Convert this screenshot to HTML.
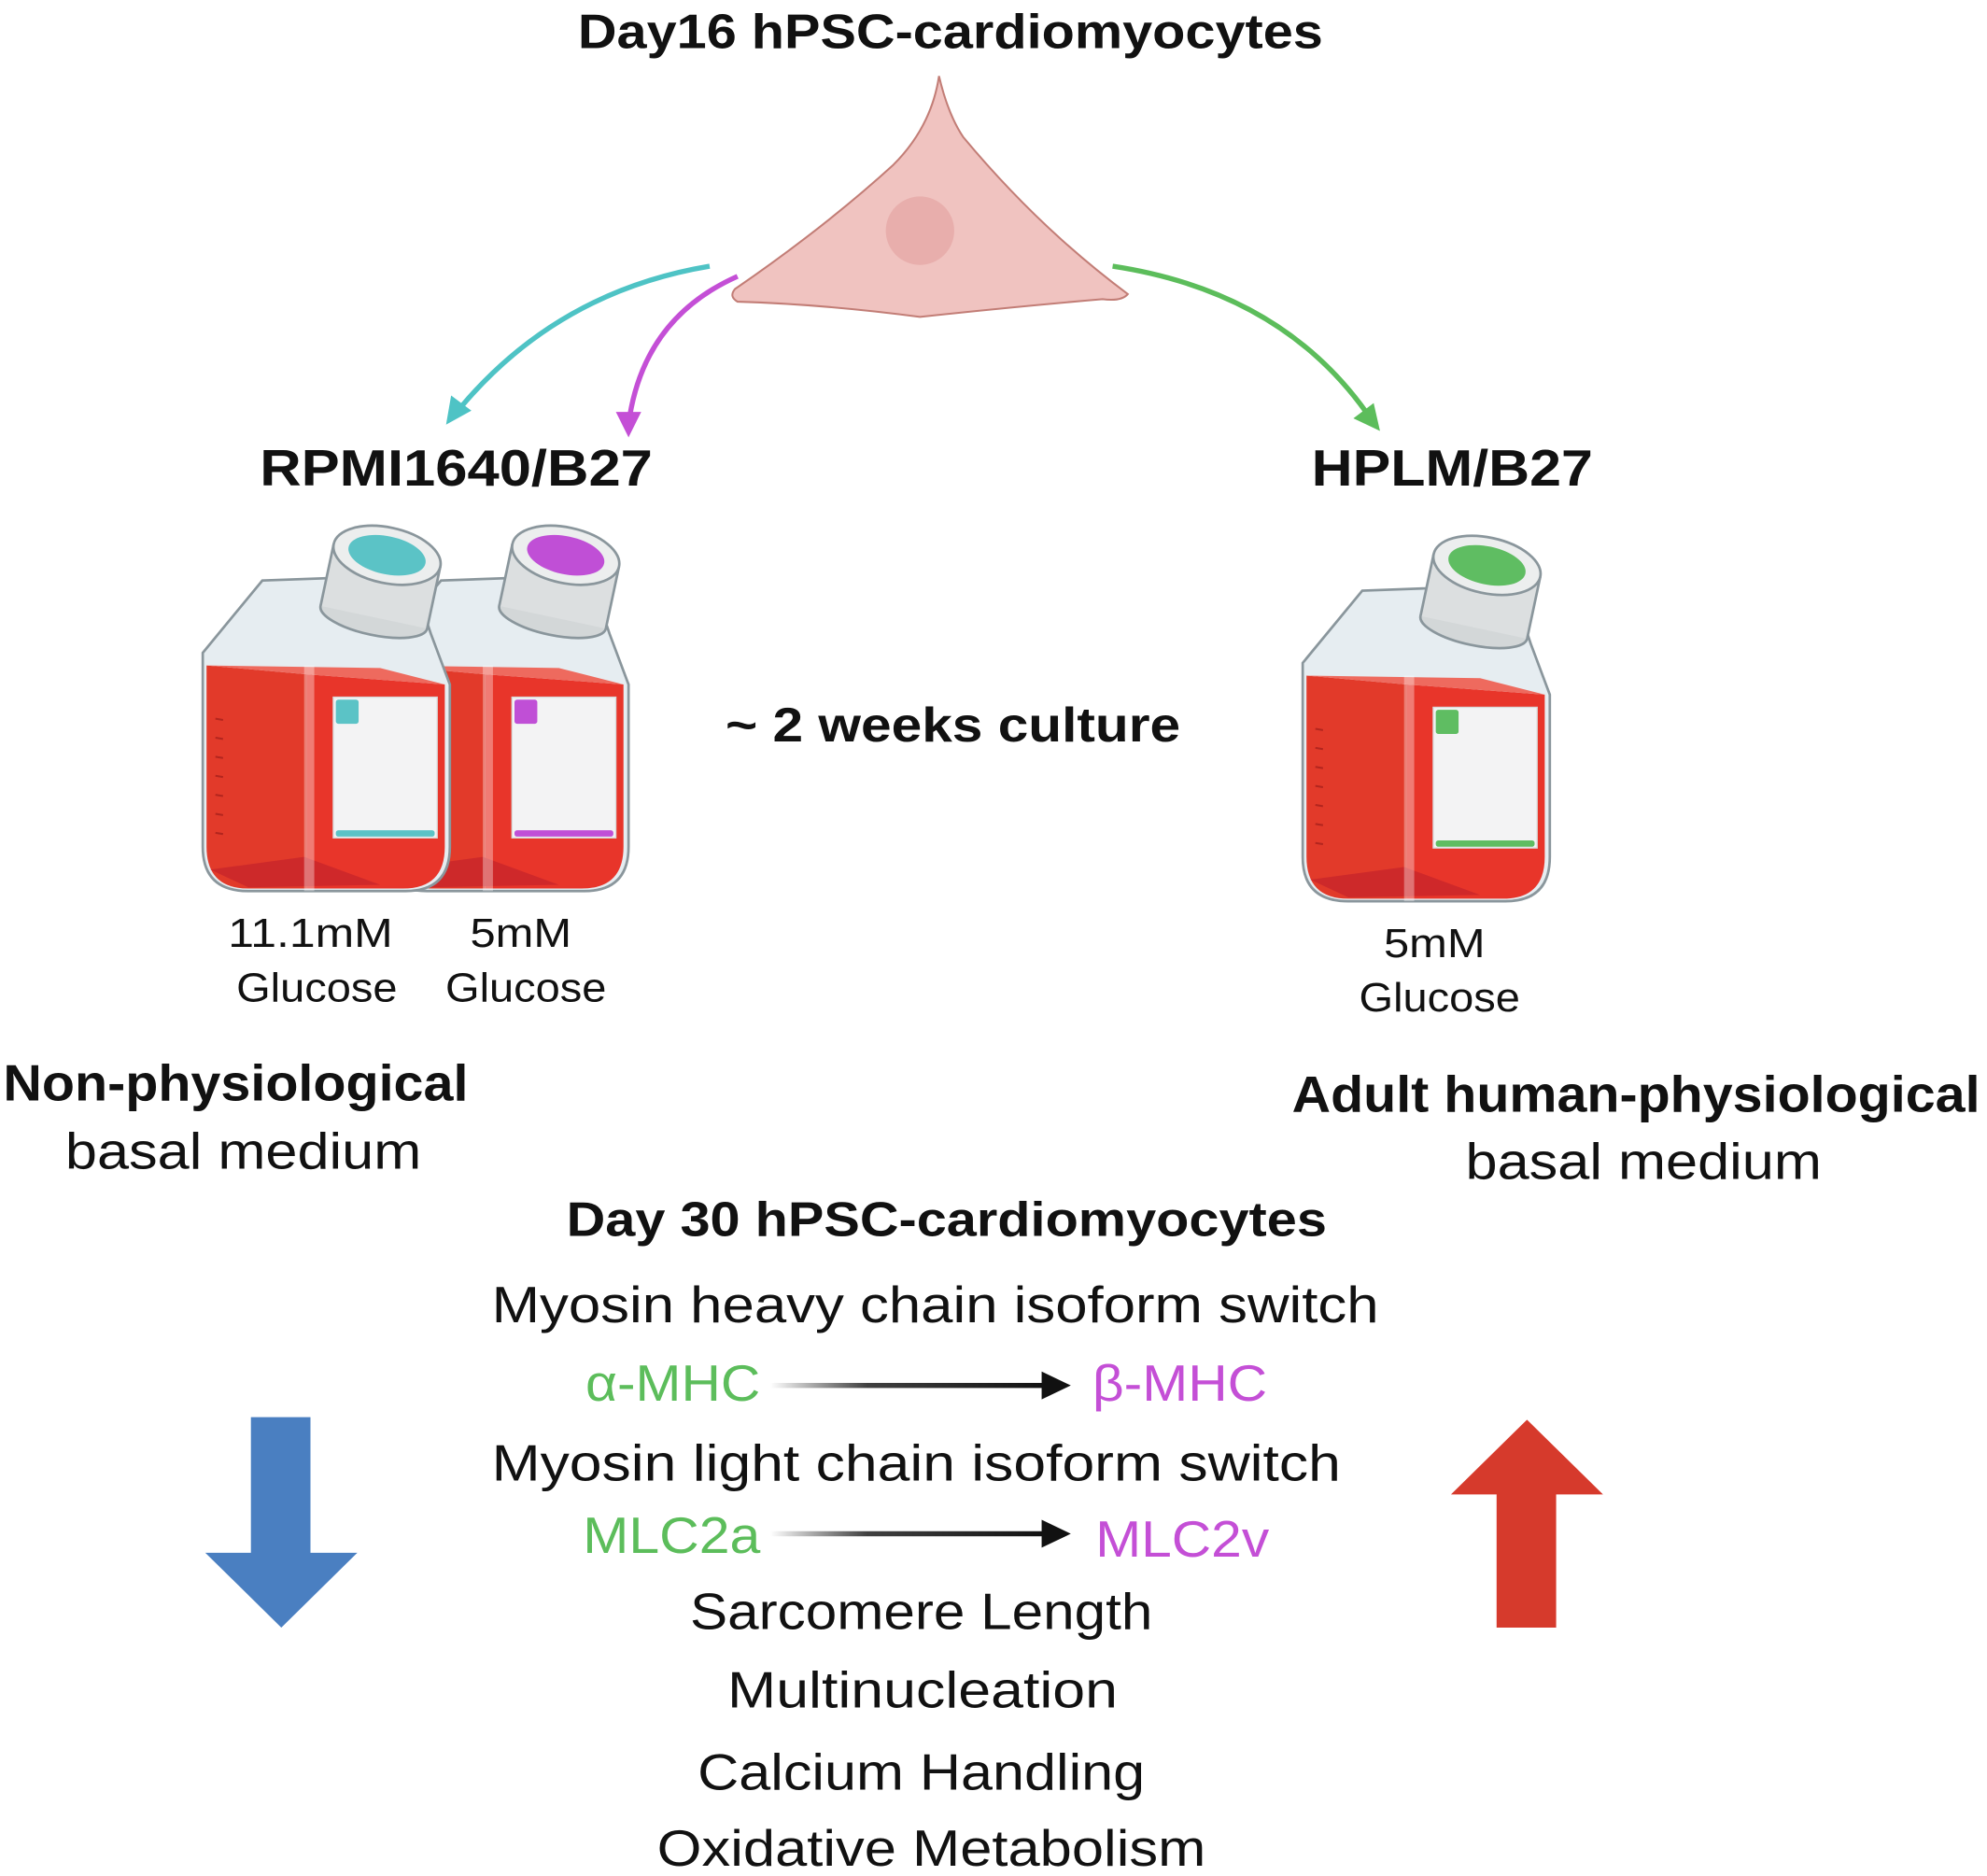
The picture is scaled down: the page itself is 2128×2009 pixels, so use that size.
<!DOCTYPE html>
<html><head><meta charset="utf-8"><style>
html,body{margin:0;padding:0;background:#fff;}
svg{display:block;}
text{font-family:"Liberation Sans",sans-serif;fill:#111;}
</style></head><body>
<svg xmlns="http://www.w3.org/2000/svg" width="2128" height="2009" viewBox="0 0 1568 1480" preserveAspectRatio="none">
<defs>
<linearGradient id="ga" x1="0" x2="1" y1="0" y2="0">
<stop offset="0" stop-color="#000" stop-opacity="0"/>
<stop offset="0.35" stop-color="#111" stop-opacity="0.8"/>
<stop offset="1" stop-color="#111"/>
</linearGradient>
<g id="flask">
<path d="M160,515 L160,668 Q160,703 196,703 L320,703 Q355,703 355,668 L355,540 L340,500 L330,470 L262,456 L207,458 Z" fill="#e6edf1" stroke="#8a969c" stroke-width="2"/>
<path d="M163,525 L242,532 L242,701 L196,701 Q163,701 163,668 Z" fill="#e23a2a"/>
<path d="M242,532 L351,540 L351,668 Q351,701 318,701 L242,701 Z" fill="#e8352a"/>
<path d="M163,525 L242,532 L351,540 L300,527 Z" fill="#ee6a5e"/>
<path d="M166,686 L240,676 L300,698 L196,700 Z" fill="#c8262a" opacity="0.8"/>
<rect x="240" y="525" width="8" height="178" fill="#ffffff" opacity="0.35"/>
<rect x="263" y="550" width="82" height="111" fill="#f3f3f4" stroke="#d9d9d9" stroke-width="1"/>
<rect x="265" y="552" width="18" height="19" rx="2"/>
<rect x="265" y="655" width="78" height="5" rx="2"/>
<g stroke="#b3251e" stroke-width="1.5">
<line x1="170" y1="567" x2="176" y2="568"/><line x1="170" y1="582" x2="176" y2="583"/><line x1="170" y1="597" x2="176" y2="598"/><line x1="170" y1="612" x2="176" y2="613"/><line x1="170" y1="627" x2="176" y2="628"/><line x1="170" y1="642" x2="176" y2="643"/><line x1="170" y1="657" x2="176" y2="658"/>
</g>
<g transform="rotate(12 305 440)">
<ellipse cx="305" cy="488" rx="43" ry="14" fill="#d3d7d8" stroke="#8a969c" stroke-width="2"/>
<rect x="262" y="438" width="86" height="50" fill="#dcdfe0"/>
<line x1="262" y1="438" x2="262" y2="488" stroke="#8a969c" stroke-width="2"/>
<line x1="348" y1="438" x2="348" y2="488" stroke="#8a969c" stroke-width="2"/>
<ellipse cx="305" cy="438" rx="43" ry="22" fill="#eceeee" stroke="#8a969c" stroke-width="2"/>
<ellipse cx="305" cy="438" rx="31" ry="15"/>
</g>
</g>
</defs>

<path d="M741,60 Q748,90 760,108 Q820,180 890,232 Q885,238 870,236 Q800,242 726,250 Q650,240 582,238 Q575,234 580,228 Q650,180 705,130 Q735,100 741,60 Z" fill="#f0c3c0" stroke="#c27d76" stroke-width="1.5"/>
<circle cx="726" cy="182" r="27" fill="#e6a9a6" opacity="0.8"/>

<path d="M560,210 Q440,230 363,322" fill="none" stroke="#4ec3c5" stroke-width="4"/>
<polygon points="352,335 356,312 372,324" fill="#4ec3c5"/>
<path d="M582,218 Q510,250 497,328" fill="none" stroke="#c44fd6" stroke-width="4"/>
<polygon points="496,345 486,325 506,325" fill="#c44fd6"/>
<path d="M878,210 Q1010,230 1078,325" fill="none" stroke="#5cbd5b" stroke-width="4"/>
<polygon points="1089,340 1068,330 1084,318" fill="#5cbd5b"/>

<use href="#flask" transform="translate(141,0)" fill="#c04fd6"/>
<use href="#flask" fill="#5bc3c6"/>
<use href="#flask" transform="translate(868,8)" fill="#5fbd62"/>

<g text-anchor="middle">
<text x="750" y="38" font-size="38" font-weight="bold" textLength="588" lengthAdjust="spacingAndGlyphs">Day16 hPSC-cardiomyocytes</text>
<text x="360" y="383" font-size="40" font-weight="bold" textLength="310" lengthAdjust="spacingAndGlyphs">RPMI1640/B27</text>
<text x="1146" y="383" font-size="40" font-weight="bold" textLength="222" lengthAdjust="spacingAndGlyphs">HPLM/B27</text>
<text x="752" y="585" font-size="38" font-weight="bold" textLength="359" lengthAdjust="spacingAndGlyphs">~ 2 weeks culture</text>
<text x="245" y="747" font-size="32" textLength="130" lengthAdjust="spacingAndGlyphs">11.1mM</text>
<text x="250" y="790" font-size="32" textLength="127" lengthAdjust="spacingAndGlyphs">Glucose</text>
<text x="411" y="747" font-size="32" textLength="80" lengthAdjust="spacingAndGlyphs">5mM</text>
<text x="415" y="790" font-size="32" textLength="127" lengthAdjust="spacingAndGlyphs">Glucose</text>
<text x="1132" y="755" font-size="32" textLength="80" lengthAdjust="spacingAndGlyphs">5mM</text>
<text x="1136" y="798" font-size="32" textLength="127" lengthAdjust="spacingAndGlyphs">Glucose</text>
<text x="186" y="868" font-size="40" font-weight="bold" textLength="367" lengthAdjust="spacingAndGlyphs">Non-physiological</text>
<text x="192" y="922" font-size="40" textLength="281" lengthAdjust="spacingAndGlyphs">basal medium</text>
<text x="1291" y="877" font-size="40" font-weight="bold" textLength="543" lengthAdjust="spacingAndGlyphs">Adult human-physiological</text>
<text x="1297" y="930" font-size="40" textLength="281" lengthAdjust="spacingAndGlyphs">basal medium</text>
<text x="747" y="975" font-size="38" font-weight="bold" textLength="600" lengthAdjust="spacingAndGlyphs">Day 30 hPSC-cardiomyocytes</text>
<text x="738" y="1043" font-size="40" textLength="700" lengthAdjust="spacingAndGlyphs">Myosin heavy chain isoform switch</text>
<text x="531" y="1105" font-size="40" textLength="138" lengthAdjust="spacingAndGlyphs" style="fill:#5cbd5b">α-MHC</text>
<text x="931" y="1105" font-size="40" textLength="138" lengthAdjust="spacingAndGlyphs" style="fill:#c44fd6">β-MHC</text>
<text x="723" y="1168" font-size="40" textLength="670" lengthAdjust="spacingAndGlyphs">Myosin light chain isoform switch</text>
<text x="530" y="1225" font-size="40" textLength="140" lengthAdjust="spacingAndGlyphs" style="fill:#5cbd5b">MLC2a</text>
<text x="933" y="1228" font-size="40" textLength="137" lengthAdjust="spacingAndGlyphs" style="fill:#c44fd6">MLC2v</text>
<text x="727" y="1285" font-size="40" textLength="365" lengthAdjust="spacingAndGlyphs">Sarcomere Length</text>
<text x="728" y="1347" font-size="40" textLength="308" lengthAdjust="spacingAndGlyphs">Multinucleation</text>
<text x="727" y="1412" font-size="40" textLength="353" lengthAdjust="spacingAndGlyphs">Calcium Handling</text>
<text x="735" y="1472" font-size="40" textLength="433" lengthAdjust="spacingAndGlyphs">Oxidative Metabolism</text>
</g>

<rect x="608" y="1091" width="218" height="4" fill="url(#ga)"/>
<polygon points="822,1082 845,1093 822,1104" fill="#111"/>
<rect x="608" y="1208" width="218" height="4" fill="url(#ga)"/>
<polygon points="822,1199 845,1210 822,1221" fill="#111"/>

<polygon points="198,1118 245,1118 245,1225 282,1225 222,1284 162,1225 198,1225" fill="#4a7fc1"/>
<polygon points="1205,1120 1265,1179 1228,1179 1228,1284 1181,1284 1181,1179 1145,1179" fill="#d63a2c"/>
</svg>
</body></html>
